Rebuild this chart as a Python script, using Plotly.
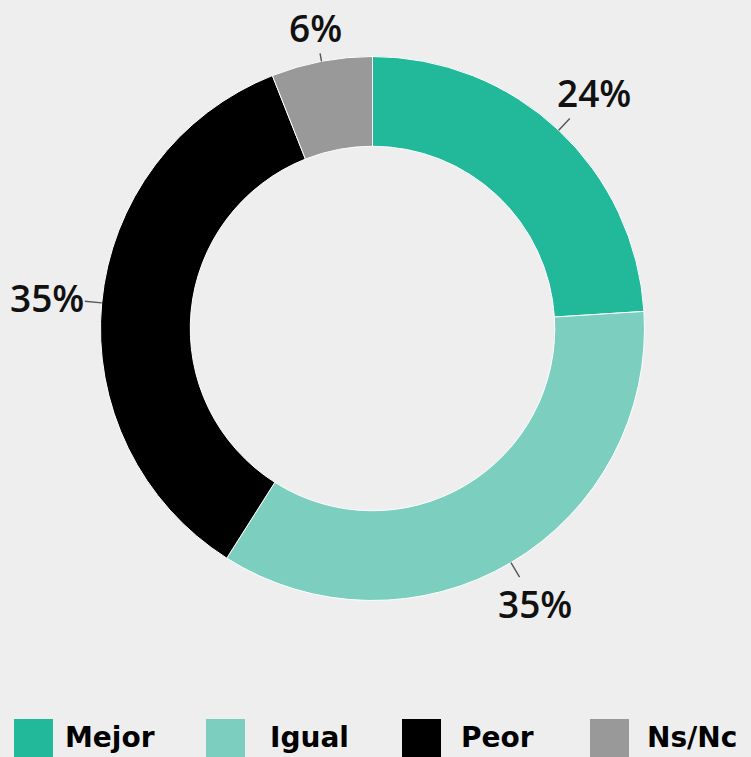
import math
import plotly.graph_objects as go

# ---- data ----
categories = ["Mejor", "Igual", "Peor", "Ns/Nc"]
values = [24, 35, 35, 6]
colors = ["#21B99A", "#7CCFBF", "#000000", "#999999"]

# ---- layout / style settings (pixels) ----
W, H = 751, 757
CX, CY = 372.5, 328.5      # pie centre (from top-left)
R = 272                    # outer radius
HOLE = 0.67
BG = "#EEEEEE"
LABEL_FONT = dict(family="Open Sans", size=37, color="#111111", weight=600)
LEGEND_FONT = dict(family="DejaVu Sans", size=28, color="#000000", weight="bold")

dom_x = [(CX - R) / W, (CX + R) / W]
dom_y = [(H - CY - R) / H, (H - CY + R) / H]

fig = go.Figure(go.Pie(
    labels=categories, values=values,
    marker=dict(colors=colors, line=dict(color="#FFFFFF", width=1)),
    hole=HOLE, sort=False, direction="clockwise", rotation=0,
    textinfo="none", showlegend=False, hoverinfo="label+percent",
    domain=dict(x=dom_x, y=dom_y),
))

# ---- outside labels with leader lines, placed from each slice's mid angle ----
total = sum(values)
annotations = []
cum = 0
for cat, v in zip(categories, values):
    mid = (cum + v / 2) / total * 2 * math.pi
    cum += v
    s, c = math.sin(mid), math.cos(mid)
    text = f"{round(v / total * 100)}%"
    half_w = 12.5 * len(text)
    dist = 16 + half_w * abs(s) + 14 * abs(c)
    px = CX + R * s
    py = CY - R * c
    annotations.append(dict(
        x=px / W, y=(H - py) / H, xref="paper", yref="paper",
        text=text, showarrow=True, arrowhead=0, arrowwidth=1.4,
        arrowcolor="#555555", ax=dist * s, ay=-dist * c,
        standoff=0, borderpad=0, font=LABEL_FONT,
    ))

# ---- custom legend along the bottom ----
legend_x = [14, 206, 402, 590]
legend_text_x = [63, 268, 459, 645]
SQ = 39
SQ_TOP = 719
shapes = []
for cat, col, lx, tx in zip(categories, colors, legend_x, legend_text_x):
    shapes.append(dict(
        type="rect", xref="paper", yref="paper",
        x0=lx / W, x1=(lx + SQ) / W,
        y0=(H - SQ_TOP - SQ) / H, y1=(H - SQ_TOP) / H,
        fillcolor=col, line=dict(width=0),
    ))
    annotations.append(dict(
        x=tx / W, y=(H - 737) / H,
        xref="paper", yref="paper", xanchor="left", yanchor="middle",
        text=cat, showarrow=False, font=LEGEND_FONT,
    ))

fig.update_layout(
    width=W, height=H,
    margin=dict(l=0, r=0, t=0, b=0),
    paper_bgcolor=BG, plot_bgcolor=BG,
    annotations=annotations, shapes=shapes,
)

fig.write_html(
    "out.html",
    config={"displayModeBar": False},
    post_script="document.body.style.margin='0';document.body.style.overflow='hidden';",
)
